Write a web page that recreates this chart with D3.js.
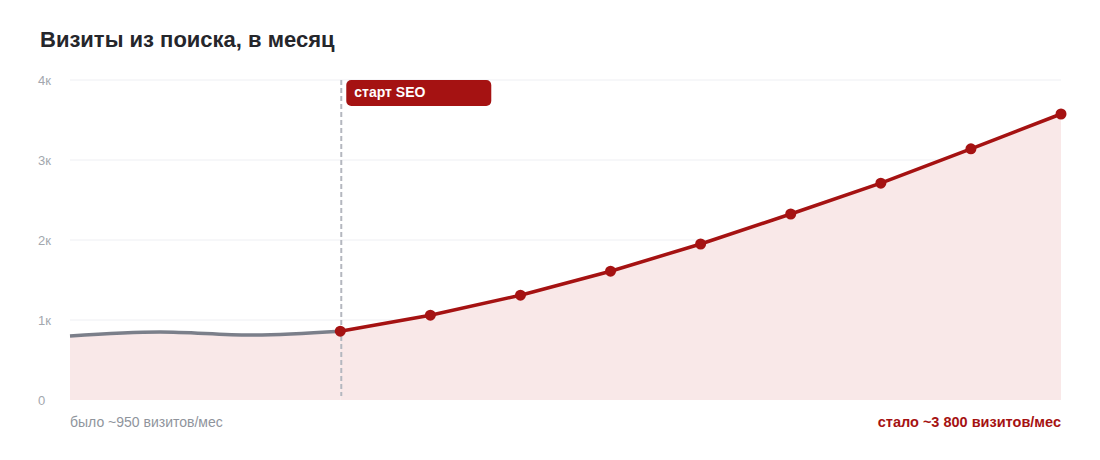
<!DOCTYPE html>
<html>
<head>
<meta charset="utf-8">
<script src="https://cdn.jsdelivr.net/npm/d3@7"></script>
<style>
  body { margin: 0; background: #fff; }
  svg { display: block; font-family: "Liberation Sans", Arial, sans-serif; }
</style>
</head>
<body>
<svg id="chart"></svg>
<script>
// data (visits per month)
var beforeIdx = [0, 1, 2, 3]
var beforeVals = [800, 850, 812, 860]
var afterIdx = [3, 4, 5, 6, 7, 8, 9, 10, 11]
var afterVals = [860, 1060, 1310, 1610, 1950, 2325, 2710, 3140, 3575]
var yTicks = [0, 1000, 2000, 3000, 4000]
var yTickLabels = ["0", "1к", "2к", "3к", "4к"]
var seoStart = 3

var W = 1100, H = 460
var margin = {top: 80, right: 39, bottom: 60, left: 70},
    width = W - margin.left - margin.right,
    height = H - margin.top - margin.bottom

var svg = d3.select("#chart").attr("width", W).attr("height", H)

svg.append("text")
  .attr("x", 40).attr("y", 47)
  .attr("font-size", 22).attr("font-weight", "bold")
  .attr("fill", "#25262b")
  .text("Визиты из поиска, в месяц")

var g = svg.append("g")
  .attr("transform", "translate(" + margin.left + "," + margin.top + ")")

var x = d3.scaleLinear().domain([0, 11]).range([0, width])
var y = d3.scaleLinear().domain([0, 4000]).range([height, 0])

// grid
g.selectAll(".grid")
  .data(yTicks.filter(d => d > 0))
  .enter().append("line")
  .attr("x1", 0).attr("x2", width)
  .attr("y1", d => y(d)).attr("y2", d => y(d))
  .attr("stroke", "#eeeff3").attr("stroke-width", 1)

// y axis labels
var yAxis = g.append("g")
  .call(d3.axisLeft(y).tickValues(yTicks).tickFormat((d, i) => yTickLabels[i]).tickSize(0).tickPadding(0))
yAxis.select(".domain").remove()
yAxis.selectAll("text")
  .attr("x", -32).attr("text-anchor", "start")
  .attr("font-size", 13).attr("font-family", "Liberation Sans, Arial, sans-serif")
  .attr("fill", "#a3a7ae")

var beforeData = beforeIdx.map((d, i) => ({i: d, v: beforeVals[i]}))
var afterData = afterIdx.map((d, i) => ({i: d, v: afterVals[i]}))

var beforeCurve = d3.curveMonotoneX
var areaBefore = d3.area().x(d => x(d.i)).y0(height).y1(d => y(d.v)).curve(beforeCurve)
var areaAfter = d3.area().x(d => x(d.i)).y0(height).y1(d => y(d.v))

g.append("path").datum(beforeData).attr("d", areaBefore).attr("fill", "#f9e8e8")
g.append("path").datum(afterData).attr("d", areaAfter).attr("fill", "#f9e8e8")

// dashed marker line
g.append("line")
  .attr("x1", x(seoStart) + 1).attr("x2", x(seoStart) + 1)
  .attr("y1", 0).attr("y2", height - 4)
  .attr("stroke", "#b4b7bf").attr("stroke-width", 2)
  .attr("stroke-dasharray", "5,3")

// before line
g.append("path").datum(beforeData)
  .attr("d", d3.line().x(d => x(d.i)).y(d => y(d.v)).curve(beforeCurve))
  .attr("fill", "none").attr("stroke", "#7b7f8a").attr("stroke-width", 3.5)

// after line
g.append("path").datum(afterData)
  .attr("d", d3.line().x(d => x(d.i)).y(d => y(d.v)))
  .attr("fill", "none").attr("stroke", "#a51212").attr("stroke-width", 3.5)

g.selectAll(".dot").data(afterData).enter().append("circle")
  .attr("cx", d => x(d.i)).attr("cy", d => y(d.v))
  .attr("r", 5.5).attr("fill", "#a51212")

// label box
var lx = x(seoStart) + 6
g.append("rect")
  .attr("x", lx).attr("y", 0).attr("width", 145).attr("height", 26)
  .attr("rx", 5).attr("fill", "#a51212")
g.append("text")
  .attr("x", lx + 8).attr("y", 17)
  .attr("font-size", 14).attr("font-weight", "bold").attr("fill", "#fff")
  .text("старт SEO")

// bottom notes
svg.append("text")
  .attr("x", margin.left).attr("y", 427)
  .attr("font-size", 14).attr("fill", "#8f949c")
  .text("было ~950 визитов/мес")
svg.append("text")
  .attr("x", margin.left + width).attr("y", 427)
  .attr("text-anchor", "end")
  .attr("font-size", 14.5).attr("font-weight", "bold").attr("fill", "#a51212")
  .text("стало ~3 800 визитов/мес")
</script>
</body>
</html>
